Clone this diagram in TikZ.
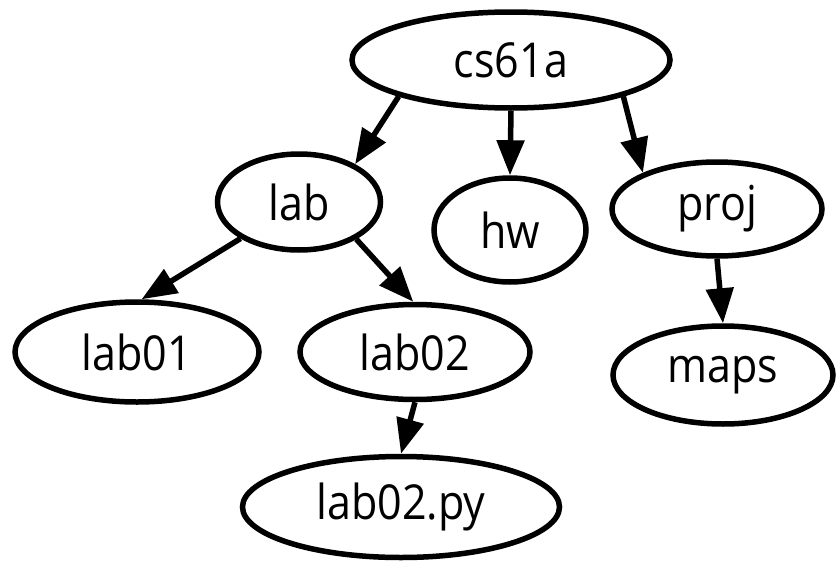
\documentclass[tikz,border=0pt]{standalone}
\usepackage{fontspec}
\usepackage{graphicx}
\setmainfont{Open Sans}
\usetikzlibrary{shapes.geometric,arrows.meta}

% labels are set slightly taller than their natural shape
\newcommand\tallname[1]{\scalebox{1}[1.12]{#1}}

\tikzset{
  dirnode/.style={ellipse, draw=black, line width=5.5pt, inner sep=0pt,
    font=\fontsize{43}{43}\selectfont},
  link/.style={line width=5.5pt, -{Triangle[length=35pt,width=27pt]}}
}

\begin{document}
\begin{tikzpicture}[x=1pt, y=-1pt]
  \useasboundingbox (0,0) rectangle (838,562);

  % directory tree nodes
  \node[dirnode, minimum width=318pt, minimum height=96pt] (cs61a)   at (511,60)  {\tallname{cs61a}};
  \node[dirnode, minimum width=163pt, minimum height=96pt] (lab)     at (299,202) {\tallname{lab}};
  \node[dirnode, minimum width=152pt, minimum height=104pt] (hw)     at (510,230) {\tallname{hw}};
  \node[dirnode, minimum width=210pt, minimum height=94pt] (proj)    at (717,209) {\tallname{proj}};
  \node[dirnode, minimum width=244pt, minimum height=100pt] (lab01)  at (137,352) {\tallname{lab01}};
  \node[dirnode, minimum width=230pt, minimum height=95pt] (lab02)   at (415,352) {\tallname{lab02}};
  \node[dirnode, minimum width=220pt, minimum height=98pt] (maps)    at (723,375) {\tallname{maps}};
  \node[dirnode, minimum width=317pt, minimum height=101pt] (lab02py) at (401,507) {\tallname{lab02.py}};

  % parent -> child links
  \draw[link] (cs61a.198)   -- (lab.34);
  \draw[link] (cs61a.south) -- (hw.north);
  \draw[link] (cs61a.342)   -- (proj.154);
  \draw[link] (lab.212)     -- (lab01.85);
  \draw[link] (lab.327)     -- (lab02.92);
  \draw[link] (lab02.south) -- (lab02py.north);
  \draw[link] (proj.south)  -- (maps.north);
\end{tikzpicture}
\end{document}
